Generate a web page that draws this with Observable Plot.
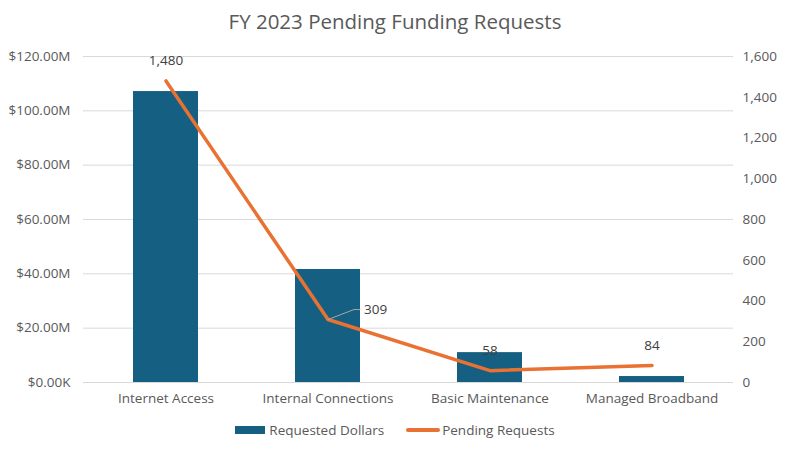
<!DOCTYPE html>
<html>
<head>
<meta charset="utf-8">
<script src="https://cdn.jsdelivr.net/npm/d3@7"></script>
<script src="https://cdn.jsdelivr.net/npm/@observablehq/plot@0.6"></script>
<style>
  html, body { margin: 0; padding: 0; background: #fff; }
  body { width: 790px; height: 452px; overflow: hidden; font-family: "Open Sans", sans-serif; color: #595959; }
  #title { height: 42px; line-height: 42px; text-align: center; font-size: 20.5px; color: #595959; }
  #legend { display: flex; justify-content: center; align-items: center; font-size: 13.5px; color: #595959; height: 30px; margin-top: -2px; }
  .item { display: flex; align-items: center; margin: 0 11px; }
  .sw-bar { width: 30px; height: 8px; background: #156082; margin-right: 4px; }
  .sw-line { width: 34px; height: 4px; border-radius: 2px; background: #E97132; margin-right: 2px; }
</style>
</head>
<body>
<div id="title">FY 2023 Pending Funding Requests</div>
<div id="chart"></div>
<div id="legend">
  <div class="item"><div class="sw-bar"></div><span>Requested Dollars</span></div>
  <div class="item"><div class="sw-line"></div><span>Pending Requests</span></div>
</div>
<script>
const categories = ["Internet Access", "Internal Connections", "Basic Maintenance", "Managed Broadband"];
const requestedDollars = [107100000, 41600000, 11000000, 2200000];
const pendingRequests = [1480, 309, 58, 84];
const leftTicks = [0, 20e6, 40e6, 60e6, 80e6, 100e6, 120e6];
const rightTicks = [0, 200, 400, 600, 800, 1000, 1200, 1400, 1600];

const ratio = 120e6 / 1600;
const data = categories.map((c, i) => ({
  category: c,
  dollars: requestedDollars[i],
  requests: pendingRequests[i],
  scaled: pendingRequests[i] * ratio
}));

const fmtLeft = d => d === 0 ? "$0.00K" : "$" + (d / 1e6).toFixed(2) + "M";
const fmtCount = d3.format(",");

const leader = {
  draw(context) {
    context.moveTo(0, 0);
    context.lineTo(26, -10);
    context.lineTo(32, -10);
  }
};

const chart = Plot.plot({
  width: 790,
  height: 375,
  marginLeft: 83,
  marginRight: 57,
  marginTop: 14,
  marginBottom: 35,
  style: { fontFamily: "Open Sans, sans-serif", fontSize: "13px", color: "#595959", background: "#fff" },
  x: { domain: categories, paddingInner: 0.6, paddingOuter: 0.3, label: null },
  y: { domain: [0, 120e6], label: null },
  marks: [
    Plot.gridY(leftTicks, { stroke: "#d9d9d9", strokeOpacity: 1, strokeWidth: 1 }),
    Plot.axisY({ ticks: leftTicks, tickFormat: fmtLeft, tickSize: 0, tickPadding: 13, anchor: "left", fill: "#595959", fontSize: 13.5, label: null }),
    Plot.axisY({ ticks: rightTicks.map(v => v * ratio), tickFormat: d => fmtCount(Math.round(d / ratio)), tickSize: 0, tickPadding: 9, anchor: "right", textAnchor: "start", fill: "#595959", fontSize: 13.5, label: null }),
    Plot.axisX({ tickSize: 0, tickPadding: 11, fill: "#595959", fontSize: 13.5, label: null }),
    Plot.barY(data, { x: "category", y: "dollars", fill: "#156082" }),
    Plot.line(data, { x: "category", y: "scaled", stroke: "#E97132", strokeWidth: 3.5, strokeLinecap: "round", strokeLinejoin: "round" }),
    Plot.vector(data.filter(d => d.category === "Internal Connections"), { x: "category", y: "scaled", shape: leader, anchor: "start", stroke: "#a6a6a6", strokeWidth: 1 }),
    Plot.text(data.filter(d => d.category !== "Internal Connections"), { x: "category", y: "scaled", text: d => fmtCount(d.requests), dy: -20, fill: "#404040", fontSize: 13.5 }),
    Plot.text(data.filter(d => d.category === "Internal Connections"), { x: "category", y: "scaled", text: d => fmtCount(d.requests), dx: 36, dy: -10, textAnchor: "start", fill: "#404040", fontSize: 13.5 })
  ]
});
document.getElementById("chart").appendChild(chart);
</script>
</body>
</html>
